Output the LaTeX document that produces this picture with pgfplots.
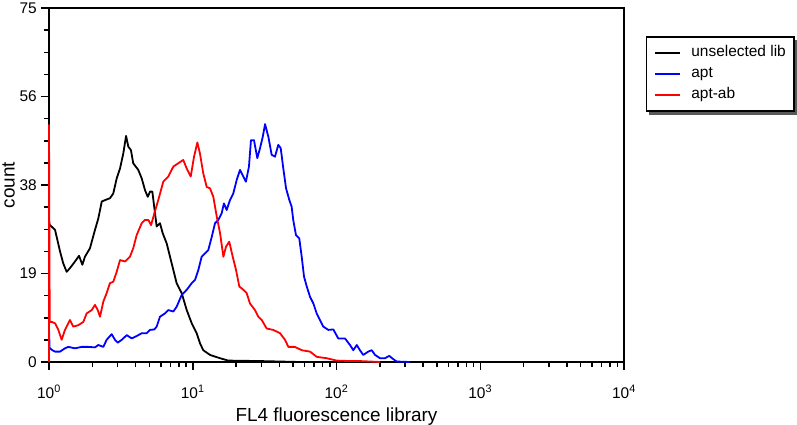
\documentclass[border=0pt]{standalone}
\usepackage{fontspec}
\setmainfont{Liberation Sans}
\usepackage{pgfplots}
\pgfplotsset{compat=1.18}

\begin{document}
\begin{tikzpicture}
\useasboundingbox (-49bp,-63bp) rectangle (748bp,362bp);
\begin{axis}[
  scale only axis, width=575bp, height=354bp,
  xmin=0, xmax=4, ymin=0, ymax=75,
  clip=false,
  xtick={0,1,2,3,4},
  xticklabels={10\textsuperscript{0},10\textsuperscript{1},10\textsuperscript{2},10\textsuperscript{3},10\textsuperscript{4}},
  minor xtick={0.30103,0.47712,0.60206,0.69897,0.77815,0.8451,0.90309,0.95424,
    1.30103,1.47712,1.60206,1.69897,1.77815,1.8451,1.90309,1.95424,
    2.30103,2.47712,2.60206,2.69897,2.77815,2.8451,2.90309,2.95424,
    3.30103,3.47712,3.60206,3.69897,3.77815,3.8451,3.90309,3.95424},
  ytick={0,18.75,37.5,56.25,75},
  yticklabels={0,19,38,56,75},
  minor ytick={4.6875,9.375,14.0625,23.4375,28.125,32.8125,42.1875,46.875,51.5625,60.9375,65.625,70.3125},
  tick pos=left, tick align=outside,
  major tick length=8bp, minor tick length=5bp,
  every tick/.style={line width=1.5bp, black},
  axis line style={line width=2.5bp},
  ticklabel style={font=\fontsize{15.5}{16}\selectfont, inner sep=0pt},
  xticklabel style={anchor=base, yshift=-28bp},
  yticklabel style={anchor=east, xshift=-4bp},
  xlabel={FL4 fluorescence library},
  ylabel={count},
  label style={font=\fontsize{19}{20}\selectfont, inner sep=0pt},
  xlabel style={at={(axis description cs:0.5,0)}, anchor=base, yshift=-59bp},
  ylabel style={at={(axis description cs:-0.0591,0.5)}, anchor=south},
  legend style={name=leg, at={(rel axis cs:1.0377,0.9209)}, anchor=north west,
    draw=black, line width=1.8bp, fill=white, inner xsep=8bp, inner ysep=9bp,
    font=\fontsize{15.5}{16}\selectfont, row sep=7bp, column sep=10bp,
    nodes={inner sep=0pt, text height=11bp, text depth=3bp}},
  legend cell align=left,
  legend image code/.code={\draw[#1, line width=1.8bp] (0bp,0bp) -- (25bp,0bp);},
  every axis plot/.append style={line width=1.8bp, line join=round},
]
\addplot[black] coordinates {
(0,29.5) (0.007,29.0) (0.042,28.0) (0.061,25.5) (0.077,23.4) (0.099,20.9) (0.123,19.1) (0.146,19.9)
(0.181,21.3) (0.209,22.5) (0.232,20.6) (0.250,22.3) (0.285,24.1) (0.320,28.0) (0.343,30.4) (0.367,34.0)
(0.390,34.3) (0.424,34.7) (0.447,35.7) (0.471,38.9) (0.494,41.0) (0.517,44.2) (0.536,47.9) (0.552,45.6)
(0.570,44.9) (0.586,42.1) (0.621,40.7) (0.645,38.9) (0.668,36.4) (0.687,35.0) (0.703,36.1) (0.719,36.1)
(0.733,32.6) (0.749,28.7) (0.772,29.4) (0.791,27.3) (0.819,25.1) (0.842,22.3) (0.865,19.5) (0.888,16.7)
(0.923,14.6) (0.958,11.0) (0.993,8.2) (1.027,6.1) (1.050,4.0) (1.073,2.5) (1.120,1.5) (1.190,0.8)
(1.247,0.3) (1.468,0.2) (1.746,0)
};
\addlegendentry{unselected lib}
\addplot[blue] coordinates {
(0,7.4) (0.004,3.0) (0.023,2.5) (0.042,2.2) (0.077,2.2) (0.111,2.9) (0.134,3.2) (0.181,2.9) (0.227,3.2)
(0.273,3.2) (0.320,3.1) (0.343,3.6) (0.378,3.2) (0.401,4.7) (0.436,5.9) (0.459,4.7) (0.478,4.1) (0.506,4.7)
(0.541,5.7) (0.575,5.0) (0.610,5.5) (0.645,6.1) (0.680,6.1) (0.703,6.8) (0.733,6.9) (0.749,7.5) (0.772,9.6)
(0.807,10.3) (0.830,11.0) (0.865,10.7) (0.888,11.7) (0.923,14.2) (0.958,15.3) (0.993,16.7) (1.016,17.4)
(1.039,19.5) (1.062,22.3) (1.085,23.0) (1.108,23.7) (1.132,26.5) (1.155,29.4) (1.178,30.1) (1.201,31.5)
(1.217,33.6) (1.236,32.2) (1.259,34.3) (1.282,35.7) (1.306,38.6) (1.329,40.7) (1.352,39.3) (1.370,38.2)
(1.391,41.4) (1.405,47.0) (1.426,47.0) (1.449,43.2) (1.468,45.3) (1.487,47.7) (1.503,50.4) (1.526,47.7)
(1.549,43.9) (1.572,43.5) (1.595,46.0) (1.612,45.3) (1.630,41.0) (1.649,36.8) (1.672,34.3) (1.688,32.9)
(1.699,30.1) (1.718,26.9) (1.741,26.2) (1.758,22.3) (1.774,18.1) (1.793,16.0) (1.816,13.8) (1.839,12.4)
(1.862,10.3) (1.885,8.9) (1.908,7.5) (1.943,6.8) (1.978,6.9) (2.012,5.0) (2.059,5.0) (2.094,3.6)
(2.117,2.5) (2.141,3.6) (2.163,2.5) (2.186,1.5) (2.221,2.2) (2.245,2.5) (2.268,1.5) (2.303,0.8)
(2.337,0.8) (2.367,1.3) (2.395,0.6) (2.419,0.1) (2.511,0)
};
\addlegendentry{apt}
\addplot[red] coordinates {
(0,0) (0,50.2) (0.005,8.5) (0.019,8.5) (0.042,8.2) (0.065,6.8) (0.088,4.7) (0.111,6.8) (0.146,8.9)
(0.169,7.5) (0.204,7.8) (0.239,8.5) (0.262,10.3) (0.297,11.0) (0.320,12.1) (0.339,11.0) (0.355,9.6)
(0.378,12.8) (0.401,14.6) (0.424,16.7) (0.447,17.0) (0.471,19.1) (0.494,21.6) (0.529,21.3) (0.563,22.3)
(0.586,24.1) (0.610,26.9) (0.645,29.4) (0.668,30.1) (0.691,30.1) (0.710,29.0) (0.733,31.5) (0.760,34.3)
(0.795,38.2) (0.830,39.3) (0.865,41.4) (0.899,42.1) (0.934,42.8) (0.958,41.0) (0.986,39.3) (1.009,43.5)
(1.032,46.5) (1.050,44.2) (1.073,40.0) (1.097,37.1) (1.120,36.8) (1.143,35.0) (1.167,30.8) (1.190,27.3)
(1.213,22.3) (1.231,24.4) (1.254,25.5) (1.278,22.3) (1.301,19.5) (1.324,16.0) (1.352,15.3) (1.375,14.6)
(1.398,12.4) (1.433,11.0) (1.456,9.6) (1.480,8.9) (1.514,7.1) (1.560,6.8) (1.607,6.1) (1.642,4.7)
(1.665,3.2) (1.711,3.2) (1.758,2.5) (1.816,2.2) (1.862,1.1) (1.932,0.8) (2.001,0.3) (2.094,0.2)
(2.163,0.2) (2.303,0)
};
\addlegendentry{apt-ab}
\end{axis}
% shadow of the legend box
\fill[black!65] ([yshift=-3.5bp]leg.north east) rectangle ([xshift=3.5bp,yshift=-3.5bp]leg.south east);
\fill[black!65] ([xshift=3.5bp]leg.south west) rectangle ([xshift=3.5bp,yshift=-3.5bp]leg.south east);
\end{tikzpicture}
\end{document}
